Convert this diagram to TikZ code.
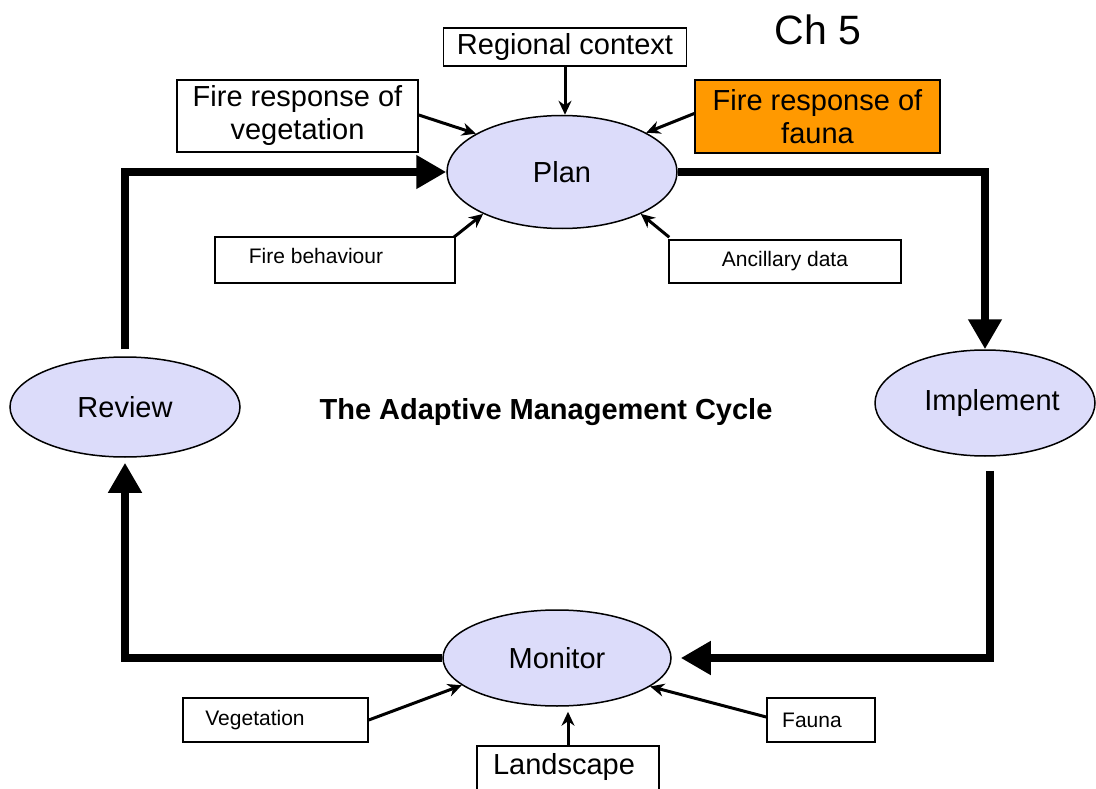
\documentclass[tikz,border=0pt]{standalone}
\usepackage{fontspec}
\setmainfont{Liberation Sans}
\usetikzlibrary{shapes.geometric,arrows.meta}
\definecolor{ellfill}{RGB}{220,220,250}
\definecolor{orangefill}{RGB}{255,153,0}
\begin{document}
\begin{tikzpicture}[x=1pt,y=-1pt,
 big/.style={font=\fontsize{29}{33}\selectfont},
 small/.style={font=\fontsize{21}{24}\selectfont},
 ell/.style={ellipse, draw, line width=1.5pt, fill=ellfill, inner sep=0pt, big},
 box/.style={draw, line width=1.5pt, inner sep=0pt, align=center},
 thinarr/.style={line width=3pt, -{Stealth[length=14pt,width=13pt]}},
 thickarr/.style={line width=8pt, -{Triangle[length=30pt,width=32pt]}}]
\useasboundingbox (0,0) rectangle (1096,789);

% ellipses
\node[ell, minimum width=230pt, minimum height=113pt] (plan) at (562,172) {Plan};
\node[ell, minimum width=220pt, minimum height=106pt] (impl) at (985,403) {\hspace*{14pt}Implement};
\node[ell, minimum width=228pt, minimum height=96pt] (mon) at (557,658) {Monitor};
\node[ell, minimum width=230pt, minimum height=100pt] (rev) at (125,407) {Review};

% text labels
\node[font=\fontsize{41}{45}\selectfont] (ch) at (818,30) {Ch 5};
\node[font=\bfseries\fontsize{29}{33}\selectfont] (title) at (546,412) {The Adaptive Management Cycle};

% input boxes around Plan
\node[box, big, minimum width=243pt, minimum height=38pt] (rc) at (565,47) {Regional context};
\node[box, big, minimum width=241pt, minimum height=72pt] (frv) at (297.5,116) {Fire response of\\vegetation};
\node[box, big, fill=orangefill, minimum width=245pt, minimum height=73pt] (frf) at (817.5,116.5) {Fire response of\\fauna};
\node[box, minimum width=240pt, minimum height=46pt] (fb) at (335,260) {};
\node[small] (fbT) at (316,256) {Fire behaviour};
\node[box, small, minimum width=232pt, minimum height=43pt] (anc) at (785,261.5) {Ancillary data};

% input boxes around Monitor
\node[box, minimum width=185pt, minimum height=44pt] (veg) at (275.5,720) {};
\node[small] (vegT) at (255,720) {Vegetation};
\node[box, minimum width=182pt, minimum height=46pt] (ls) at (568,769) {};
\node[big] (lsT) at (564,767) {Landscape};
\node[box, minimum width=108pt, minimum height=44pt] (fau) at (821,720) {};
\node[small] (fauT) at (812,720) {Fauna};

% thin arrows
\draw[thinarr] (rc.south) -- (rc.south |- plan.north);
\draw[thinarr] ([yshift=1pt]frv.east) -- (plan.156);
\draw[thinarr] ([yshift=3pt]frf.west) -- (plan.25);
\draw[thinarr] ([shift={(-2,1)}]fb.north east) -- (plan.208);
\draw[thinarr] ([shift={(1,-2)}]anc.north west) -- (plan.-28);
\draw[thinarr] (veg.east) -- (mon.196);
\draw[thinarr] (ls.north) -- ([yshift=-5pt]ls.north |- mon.south);
\draw[thinarr] ([yshift=3pt]fau.west) -- (mon.-17);

% main cycle
\draw[thickarr] (plan.east) -| (impl.north);
\draw[thickarr] ([shift={(5,14)}]impl.south) |- ([xshift=9pt]mon.east);
\draw[thickarr] (mon.west) -| ([yshift=-5pt]rev.south);
\draw[thickarr] ([yshift=7pt]rev.north) |- (plan.west);
\end{tikzpicture}
\end{document}
